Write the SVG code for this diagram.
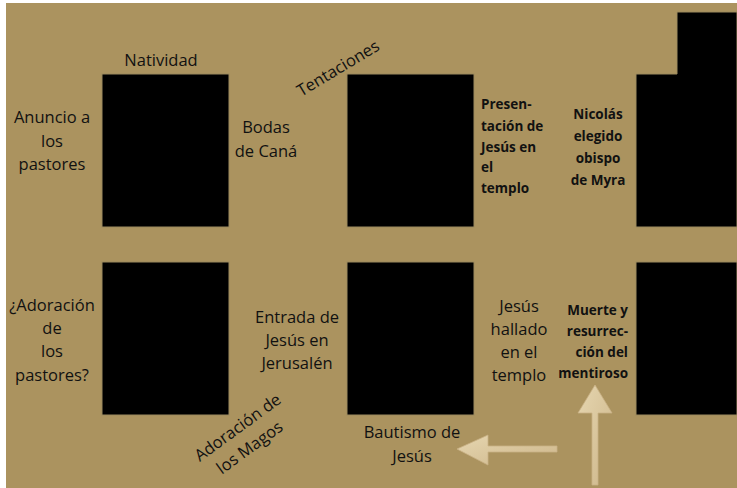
<svg xmlns="http://www.w3.org/2000/svg" width="737" height="488" viewBox="0 0 737 488">
<style>
.t{font-family:"Open Sans","Liberation Sans",sans-serif;font-size:16.5px;fill:#111;text-anchor:middle}
.b{font-family:"Open Sans","Liberation Sans",sans-serif;font-size:13.5px;font-weight:bold;fill:#111}
.box{fill:#000;stroke:#9c8a5e;stroke-width:1}
.arr{fill:url(#ag);stroke:#c9b185;stroke-width:0.8}
</style>
<defs>
<linearGradient id="ag" x1="0" y1="0" x2="1" y2="1">
<stop offset="0" stop-color="#e6d6b0"/>
<stop offset="1" stop-color="#cdb68a"/>
</linearGradient>
</defs>
<rect x="0" y="0" width="737" height="488" fill="#fff"/>
<rect x="6" y="3" width="731" height="485" fill="#ab935f"/>

<g id="natividad">
<rect class="box" x="102" y="74" width="127" height="153"/>
<text class="t" x="161" y="66">Natividad</text>
</g>
<g id="anuncio">
<text class="t" x="52" y="123">Anuncio a</text>
<text class="t" x="52" y="147">los</text>
<text class="t" x="52" y="170">pastores</text>
</g>
<g id="bodas">
<text class="t" x="266" y="133">Bodas</text>
<text class="t" x="266" y="157">de Caná</text>
</g>
<g id="tentaciones">
<rect class="box" x="347" y="74" width="127" height="153"/>
<text class="t" transform="translate(341,73) rotate(-31)">Tentaciones</text>
</g>
<g id="presentacion">
<text class="b" x="481" y="109">Presen-</text>
<text class="b" x="481" y="131">tación de</text>
<text class="b" x="481" y="152">Jesús en</text>
<text class="b" x="481" y="172">el</text>
<text class="b" x="481" y="193">templo</text>
</g>
<g id="nicolas">
<path class="box" d="M677,12 H737 V227 H636 V74 H677 Z"/>
<text class="b" x="598" y="119" text-anchor="middle">Nicolás</text>
<text class="b" x="598" y="141" text-anchor="middle">elegido</text>
<text class="b" x="598" y="163" text-anchor="middle">obispo</text>
<text class="b" x="598" y="185" text-anchor="middle">de Myra</text>
</g>
<g id="adoracion-pastores">
<rect class="box" x="102" y="262" width="127" height="153"/>
<text class="t" x="52" y="311">¿Adoración</text>
<text class="t" x="52" y="334">de</text>
<text class="t" x="52" y="357">los</text>
<text class="t" x="52" y="381">pastores?</text>
</g>
<g id="entrada">
<rect class="box" x="347" y="262" width="127" height="153"/>
<text class="t" x="297" y="323">Entrada de</text>
<text class="t" x="297" y="346">Jesús en</text>
<text class="t" x="297" y="369">Jerusalén</text>
</g>
<g id="hallado">
<text class="t" x="519" y="312">Jesús</text>
<text class="t" x="519" y="335">hallado</text>
<text class="t" x="519" y="358">en el</text>
<text class="t" x="519" y="381">templo</text>
</g>
<g id="muerte">
<rect class="box" x="636" y="262" width="101" height="153"/>
<text class="b" x="628" y="315" text-anchor="end">Muerte y</text>
<text class="b" x="628" y="336" text-anchor="end">resurrec-</text>
<text class="b" x="628" y="357" text-anchor="end">ción del</text>
<text class="b" x="628" y="378" text-anchor="end">mentiroso</text>
</g>
<g id="adoracion-magos">
<text class="t" transform="translate(241,432) rotate(-36)">Adoración de</text>
<text class="t" transform="translate(253,452) rotate(-36)">los Magos</text>
</g>
<g id="bautismo">
<text class="t" x="412" y="438">Bautismo de</text>
<text class="t" x="412" y="462">Jesús</text>
</g>

<g id="connectors">
<path class="arr" d="M557,446 V452 H488 V465 L457,449 L488,435 V446 Z"/>
<path class="arr" d="M592,485 V413 H578 L595,385 L612,413 H598 V485 Z"/>
</g>
</svg>
